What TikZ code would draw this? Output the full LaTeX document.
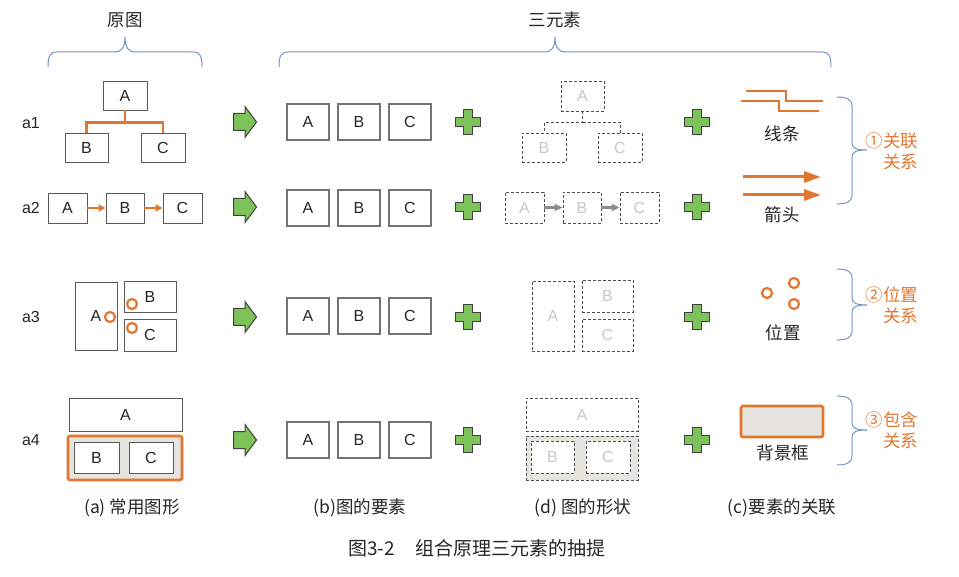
\documentclass[tikz,border=0pt]{standalone}
\usepackage{fontspec}
\setmainfont{Liberation Sans}
\newfontfamily\cjk{Noto Sans CJK SC}
\usetikzlibrary{positioning}
\usetikzlibrary{arrows.meta}
\definecolor{txtgray}{HTML}{262626}
\definecolor{boxgray}{HTML}{595959}
\definecolor{orangeln}{HTML}{E2762F}
\definecolor{bracebl}{HTML}{7393C9}
\definecolor{greenfill}{HTML}{7EC35A}
\definecolor{ghost}{HTML}{C8C8C8}
\definecolor{bgfill}{HTML}{E6E4DE}
\definecolor{ghostarr}{HTML}{8C8C8C}
\tikzset{
    boxn/.style = {draw=boxgray, line width=0.9pt, fill=white, inner sep=0, font=\fontsize{16}{18}\selectfont, text=txtgray},
    boxb/.style = {boxn, draw=black!55, line width=1.3pt, minimum width=42pt, minimum height=36pt},
    boxd/.style = {draw=black!70, dash pattern=on 3pt off 2pt, line width=0.9pt, fill=white, inner sep=0, font=\fontsize{16}{18}\selectfont, text=ghost},
    bgbox/.style = {draw=orangeln, line width=2.6pt, fill=bgfill, rounded corners=1.5pt, inner sep=0},
    bgboxd/.style = {draw=black!70, dash pattern=on 3pt off 2pt, line width=0.9pt, fill=bgfill, inner sep=0},
    rowlbl/.style = {font=\fontsize{16}{18}\selectfont, text=txtgray},
    cjklbl/.style = {font=\cjk\fontsize{17.5}{20}\selectfont, text=txtgray},
    rellbl/.style = {font=\cjk\fontsize{17.5}{21}\selectfont, text=orangeln, align=right, anchor=east},
    edgeo/.style = {orangeln, line width=2.8pt},
    edged/.style = {black!70, dash pattern=on 3pt off 2pt, line width=0.9pt},
    arro/.style = {orangeln, line width=2pt, -{Triangle[length=7pt,width=7pt]}},
    arrd/.style = {ghostarr, line width=2.2pt, -{Triangle[length=8pt,width=7pt]}},
    arrc/.style = {orangeln, line width=3pt, -{Triangle[length=17pt,width=11pt]}},
    ring/.style = {orangeln, line width=2.2pt},
    bracel/.style = {bracebl, line width=1pt},
    garrow/.pic = {\draw[fill=greenfill, draw=black!75, line width=1pt]
        (-11,-8.5) -- (0.5,-8.5) -- (0.5,-15.5) -- (12,0) -- (0.5,15.5) -- (0.5,8.5) -- (-11,8.5) -- cycle;},
    gplus/.pic = {\draw[fill=greenfill, draw=black!75, line width=1.1pt]
        (-4.5,-12.5) -- (4.5,-12.5) -- (4.5,-4.5) -- (12.5,-4.5) -- (12.5,4.5) -- (4.5,4.5) -- (4.5,12.5)
        -- (-4.5,12.5) -- (-4.5,4.5) -- (-12.5,4.5) -- (-12.5,-4.5) -- (-4.5,-4.5) -- cycle;}
}

\begin{document}
\begin{tikzpicture}[x=1pt, y=-1pt]
\useasboundingbox (0,0) rectangle (959,577);

% headings and top braces
\node[cjklbl] at (125,20) (hOrig) {原图};
\node[cjklbl] at (555,20) (hThree) {三元素};
\draw[bracel] (48,67) .. controls (48,56) and (50,52) .. (57,52) -- (115,52) .. controls (121,52) and (125,48) .. (125,37)
    .. controls (125,48) and (129,52) .. (135,52) -- (193,52) .. controls (200,52) and (202,56) .. (202,67);
\draw[bracel] (279,67) .. controls (279,56) and (281,52) .. (288,52) -- (545,52) .. controls (551,52) and (555,48) .. (555,37)
    .. controls (555,48) and (559,52) .. (565,52) -- (822,52) .. controls (829,52) and (831,56) .. (831,67);

% row labels
\node[rowlbl] at (31,123) (la1) {a1};
\node[rowlbl] at (31,208) (la2) {a2};
\node[rowlbl] at (31,317) (la3) {a3};
\node[rowlbl] at (31,440) (la4) {a4};

% (a) a1
\node[boxn, minimum width=44pt, minimum height=29pt] at (125,95.5) (a1A) {A};
\node[boxn, minimum width=43pt, minimum height=29pt] at (86.5,147.5) (a1B) {B};
\node[boxn, minimum width=44pt, minimum height=29pt] at (163,147.5) (a1C) {C};
\draw[edgeo] (a1A.south) -- ++(0,12) coordinate (a1m) -| (a1B.north);
\draw[edgeo] (a1m) -| (a1C.north);

% (a) a2
\node[boxn, minimum width=39pt, minimum height=30pt] at (67.5,208) (a2A) {A};
\node[boxn, minimum width=38pt, minimum height=30pt] at (125,208) (a2B) {B};
\node[boxn, minimum width=39pt, minimum height=30pt] at (182.5,208) (a2C) {C};
\draw[arro] (a2A) -- (a2B);
\draw[arro] (a2B) -- (a2C);

% (a) a3
\node[boxn, minimum width=42pt, minimum height=68pt] at (96,316) (a3A) {A\hspace{12pt}};
\node[boxn, minimum width=52pt, minimum height=31pt] at (150,296.5) (a3B) {B};
\node[boxn, minimum width=52pt, minimum height=32pt] at (150,335) (a3C) {C};
\draw[ring, fill=white] (110,317) circle[radius=5pt];
\draw[ring, fill=white] (132,304) circle[radius=5pt];
\draw[ring, fill=white] (132,328) circle[radius=5pt];

% (a) a4
\node[boxn, minimum width=113pt, minimum height=33pt] at (125.5,414.5) (a4A) {A};
\node[bgbox, minimum width=114pt, minimum height=44pt] at (125,458) (a4bg) {};
\node[boxn, minimum width=45pt, minimum height=31pt] at (96.5,457.5) (a4B) {B};
\node[boxn, minimum width=44pt, minimum height=31pt] at (151,457.5) (a4C) {C};

% green arrows and plus signs
\foreach \yy in {122,207,317,440} {
    \pic at (244.5,\yy) {garrow};
    \pic at (468,\yy) {gplus};
    \pic at (697,\yy) {gplus};
}

% (b) elements
\foreach \yy/\rr in {122/1,208/2,316/3,440/4} {
    \node[boxb] at (308,\yy) (b\rr A) {A};
    \node[boxb] at (359,\yy) (b\rr B) {B};
    \node[boxb] at (410,\yy) (b\rr C) {C};
}

% (d) shapes, a1
\node[boxd, minimum width=43pt, minimum height=30pt] at (582.5,96) (d1A) {A};
\node[boxd, minimum width=44pt, minimum height=29pt] at (544,147.5) (d1B) {B};
\node[boxd, minimum width=44pt, minimum height=29pt] at (620,147.5) (d1C) {C};
\draw[edged] (d1A.south) -- ++(0,11) coordinate (d1m) -| (d1B.north);
\draw[edged] (d1m) -| (d1C.north);

% (d) shapes, a2
\node[boxd, minimum width=39pt, minimum height=31pt] at (524.5,207.5) (d2A) {A};
\node[boxd, minimum width=38pt, minimum height=31pt] at (582,207.5) (d2B) {B};
\node[boxd, minimum width=39pt, minimum height=31pt] at (639.5,207.5) (d2C) {C};
\draw[arrd] (d2A) -- (d2B);
\draw[arrd] (d2B) -- (d2C);

% (d) shapes, a3
\node[boxd, minimum width=42pt, minimum height=70pt] at (553,316) (d3A) {A};
\node[boxd, minimum width=51pt, minimum height=32pt] at (607.5,296) (d3B) {B};
\node[boxd, minimum width=51pt, minimum height=32pt] at (607.5,335) (d3C) {C};

% (d) shapes, a4
\node[boxd, minimum width=112pt, minimum height=33pt] at (582,414.5) (d4A) {A};
\node[bgboxd, minimum width=112pt, minimum height=44pt] at (582,458) (d4bg) {};
\node[boxd, minimum width=43pt, minimum height=32pt] at (552.5,457) (d4B) {B};
\node[boxd, minimum width=44pt, minimum height=32pt] at (608,457) (d4C) {C};

% (c) relations
\draw[edgeo, line width=2.6pt] (746,91) -- (786,91) -- (786,101) -- (823,101);
\draw[edgeo, line width=2.6pt] (741,101) -- (779,101) -- (779,111) -- (819,111);
\node[cjklbl] at (782,134) (cLine) {线条};
\draw[arrc] (743,177) -- (821,177);
\draw[arrc] (743,195) -- (821,195);
\node[cjklbl] at (782,215) (cArrow) {箭头};
\draw[ring] (767,293) circle[radius=5pt];
\draw[ring] (794,283) circle[radius=5pt];
\draw[ring] (794,304) circle[radius=5pt];
\node[cjklbl] at (783,333) (cPos) {位置};
\node[bgbox, minimum width=82pt, minimum height=31pt] at (782,421.5) (cBg) {};
\node[cjklbl] at (783,453) (cFrame) {背景框};

% right braces
\draw[bracel] (837,97) .. controls (846,97) and (852,99) .. (852,106) -- (852,143) .. controls (852,148) and (856,150) .. (867,150)
    .. controls (856,150) and (852,152) .. (852,157) -- (852,195) .. controls (852,202) and (846,204) .. (837,204);
\draw[bracel] (837,269) .. controls (846,269) and (852,271) .. (852,278) -- (852,298) .. controls (852,303) and (856,305) .. (867,305)
    .. controls (856,305) and (852,307) .. (852,312) -- (852,331) .. controls (852,338) and (846,340) .. (837,340);
\draw[bracel] (837,396) .. controls (846,396) and (852,398) .. (852,405) -- (852,423) .. controls (852,428) and (856,430) .. (867,430)
    .. controls (856,430) and (852,432) .. (852,437) -- (852,456) .. controls (852,463) and (846,465) .. (837,465);
\node[rellbl] at (922,151) (r1) {①关联\\关系};
\node[rellbl] at (922,305) (r2) {②位置\\关系};
\node[rellbl] at (922,430) (r3) {③包含\\关系};

% captions
\node[cjklbl] at (132,508) (capA) {(a) 常用图形};
\node[cjklbl] at (360,508) (capB) {(b)图的要素};
\node[cjklbl] at (583,508) (capD) {(d) 图的形状};
\node[cjklbl] at (782,508) (capC) {(c)要素的关联};
\node[cjklbl, font=\cjk\fontsize{19}{22}\selectfont] at (477,548) (capMain) {图3-2\hspace{1.1em}组合原理三元素的抽提};

\end{tikzpicture}
\end{document}
